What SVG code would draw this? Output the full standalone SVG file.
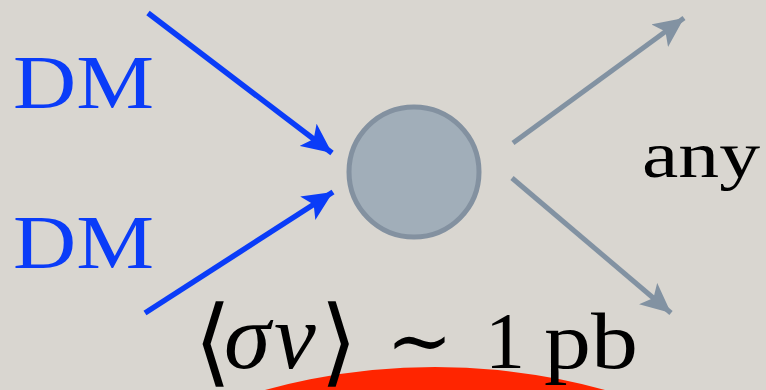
<svg xmlns="http://www.w3.org/2000/svg" width="766" height="390" viewBox="0 0 766 390">
<style>
.bg{fill:#d9d6d0}
.dm{font-family:"Liberation Serif","DejaVu Serif",serif;font-size:76px;fill:#0a3cf8}
.blk{font-family:"Liberation Serif","DejaVu Serif",serif;fill:#000}
.br{font-family:"DejaVu Sans",sans-serif;font-weight:200;font-size:96px}
.blue{stroke:#0a3cf8;stroke-width:5.5;fill:none}
.grey{stroke:#8292a2;stroke-width:5;fill:none}
</style>
<defs>
<marker id="ab" markerUnits="userSpaceOnUse" markerWidth="32" markerHeight="28" refX="30" refY="14" orient="auto">
<path d="M0,0 L30,14 L0,28 L7,14 Z" fill="#0a3cf8"/>
</marker>
<marker id="ag" markerUnits="userSpaceOnUse" markerWidth="32" markerHeight="28" refX="30" refY="14" orient="auto">
<path d="M0,0 L30,14 L0,28 L7,14 Z" fill="#8292a2"/>
</marker>
</defs>
<rect class="bg" x="0" y="0" width="766" height="390"/>
<g id="dm-top"><text class="dm" x="13" y="108" textLength="141" lengthAdjust="spacingAndGlyphs">DM</text></g>
<g id="dm-bottom"><text class="dm" x="13" y="268" textLength="141" lengthAdjust="spacingAndGlyphs">DM</text></g>
<g id="vertex"><circle cx="414" cy="172" r="65" fill="#a1aeb9" stroke="#8391a0" stroke-width="5"/></g>
<g id="any"><text class="blk" x="642" y="177" font-size="66" textLength="118" lengthAdjust="spacingAndGlyphs">any</text></g>
<g id="red"><circle cx="435" cy="1007" r="640" fill="#ff2500"/></g>
<g id="formula">
<text class="blk" font-size="80" y="368">
<tspan class="br" x="194" dy="6">⟨</tspan><tspan x="224" font-style="italic" font-size="94" dy="-6">σ</tspan><tspan x="274" font-style="italic" font-size="94">v</tspan><tspan class="br" x="320" dy="6">⟩</tspan><tspan x="386" dy="-6">∼</tspan><tspan x="485">1</tspan><tspan x="544" textLength="94" lengthAdjust="spacingAndGlyphs">pb</tspan>
</text>
</g>
<g id="connectors">
<line class="blue" x1="148" y1="13" x2="332" y2="153" marker-end="url(#ab)"/>
<line class="blue" x1="145" y1="313" x2="333" y2="192" marker-end="url(#ab)"/>
<line class="grey" x1="513" y1="143" x2="684" y2="18" marker-end="url(#ag)"/>
<line class="grey" x1="512" y1="178" x2="671" y2="313" marker-end="url(#ag)"/>
</g>
</svg>
